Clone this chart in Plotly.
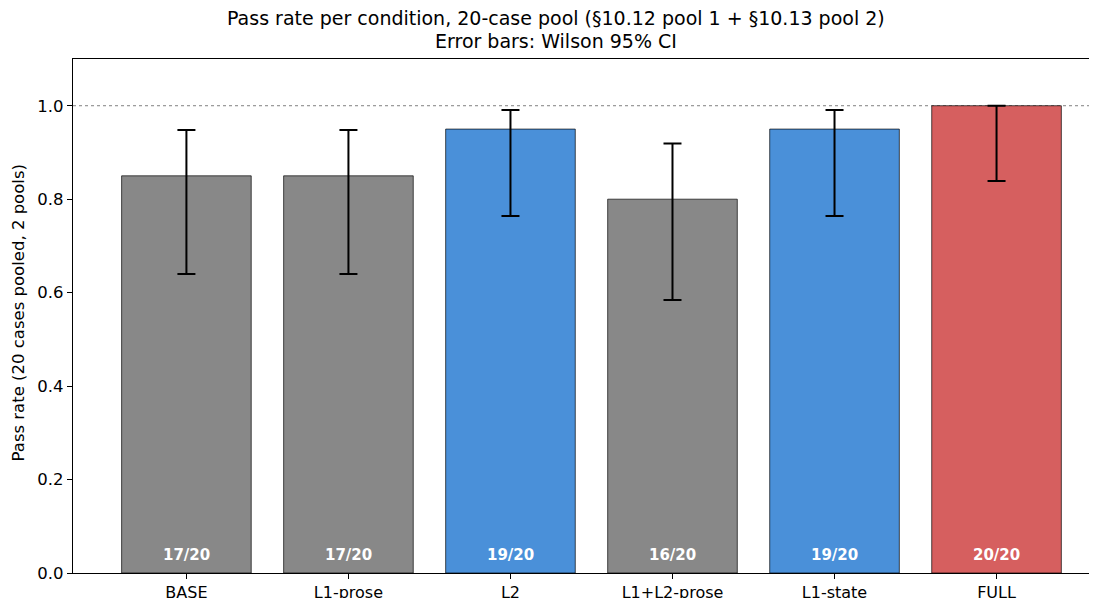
import plotly.graph_objects as go

conditions = ["BASE", "L1-prose", "L2", "L1+L2-prose", "L1-state", "FULL"]
passes = [17, 17, 19, 16, 19, 20]
totals = [20, 20, 20, 20, 20, 20]
rates = [0.85, 0.85, 0.95, 0.80, 0.95, 1.00]
ci_low = [0.640, 0.640, 0.764, 0.584, 0.764, 0.839]
ci_high = [0.948, 0.948, 0.991, 0.919, 0.991, 1.000]
colors = ["#888888", "#888888", "#4a90d9", "#888888", "#4a90d9", "#d65f5f"]
labels = [f"{p}/{t}" for p, t in zip(passes, totals)]
title_lines = ["Pass rate per condition, 20-case pool (§10.12 pool 1 + §10.13 pool 2)",
               "Error bars: Wilson 95% CI"]
y_title = "Pass rate (20 cases pooled, 2 pools)"

x = list(range(len(conditions)))
err_plus = [h - r for h, r in zip(ci_high, rates)]
err_minus = [r - l for r, l in zip(rates, ci_low)]

FONT = "DejaVu Sans"
W, H = 1089, 590
L, T, B, R = 65, 51, 25, 0
plot_h = H - T - B
plot_w = W - L - R

fig = go.Figure()
fig.add_trace(go.Bar(
    x=x, y=rates, width=0.8,
    marker=dict(color=colors, line=dict(color="rgba(0,0,0,0.85)", width=0.8)),
    error_y=dict(type="data", symmetric=False, array=err_plus, arrayminus=err_minus,
                 color="black", thickness=2, width=9),
    showlegend=False, hoverinfo="skip",
))

for xi, lab in zip(x, labels):
    fig.add_annotation(x=xi, y=0.038, text=f"<b>{lab}</b>", showarrow=False,
                       yanchor="middle", xanchor="center",
                       font=dict(family=FONT, size=15, color="white"))

fig.add_shape(type="line", xref="paper", x0=0, x1=1, yref="y", y0=1.0, y1=1.0,
              line=dict(color="gray", width=1, dash="dot"), layer="below")

# title lines
tx = (548 - L) / plot_w
fig.add_annotation(xref="paper", yref="paper", x=tx, y=1 + 41 / plot_h,
                   text=title_lines[0], showarrow=False, xanchor="center", yanchor="middle",
                   font=dict(family=FONT, size=19, color="black"))
fig.add_annotation(xref="paper", yref="paper", x=tx, y=1 + 18 / plot_h,
                   text=title_lines[1], showarrow=False, xanchor="center", yanchor="middle",
                   font=dict(family=FONT, size=19, color="black"))
# y axis title
fig.add_annotation(xref="paper", yref="paper", x=-(L - 10) / plot_w, y=0.505,
                   text=y_title, showarrow=False, textangle=-90,
                   xanchor="center", yanchor="middle",
                   font=dict(family=FONT, size=16.5, color="black"))

fig.update_layout(
    width=W, height=H,
    margin=dict(l=L, r=R, t=T, b=B, autoexpand=False),
    paper_bgcolor="white", plot_bgcolor="white",
    font=dict(family=FONT, size=16.5, color="black"),
    bargap=0.2,
)
fig.update_xaxes(range=[-0.7, 5.62], tickmode="array", tickvals=x, ticktext=conditions,
                 showline=True, linecolor="black", linewidth=1.2, mirror=True,
                 ticks="outside", ticklen=5, tickcolor="black", showgrid=False,
                 zeroline=False, automargin=False, tickfont=dict(family=FONT, size=16))
fig.update_yaxes(range=[0, 1.1], tickmode="array", tickvals=[0, 0.2, 0.4, 0.6, 0.8, 1.0],
                 ticktext=["0.0", "0.2", "0.4", "0.6", "0.8", "1.0"],
                 showline=True, linecolor="black", linewidth=1.2, mirror=False,
                 ticks="outside", ticklen=5, tickcolor="black", showgrid=False,
                 zeroline=False, automargin=False, tickfont=dict(family=FONT, size=16.5))

fig.write_html("out.html")
